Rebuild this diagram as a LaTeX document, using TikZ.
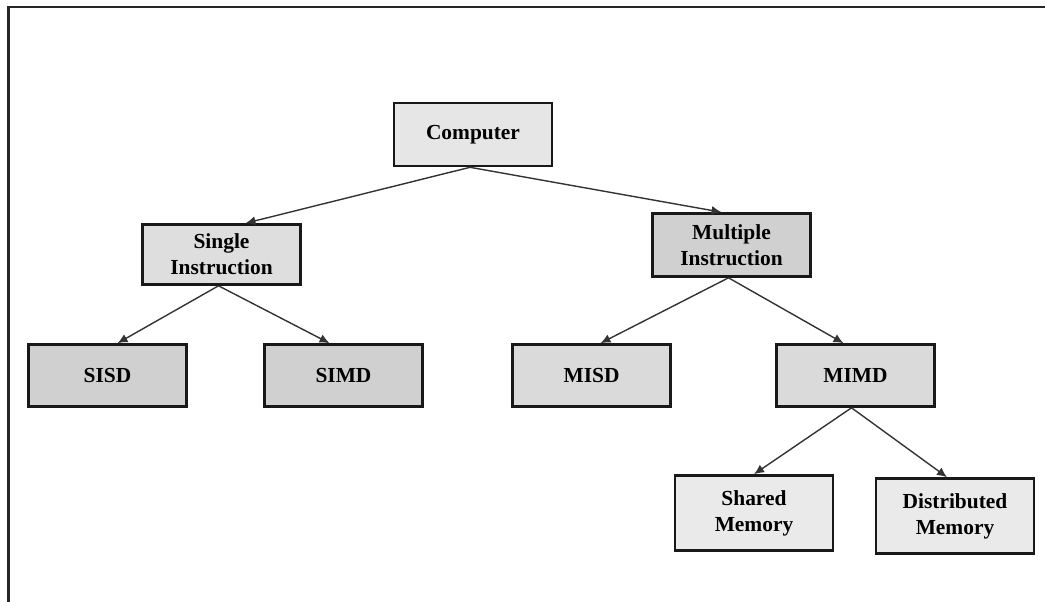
\documentclass[tikz,border=0pt]{standalone}
\usepackage{fontspec}
\setmainfont{Liberation Serif}
\usetikzlibrary{arrows.meta}
\definecolor{fillA}{HTML}{E6E6E6}
\definecolor{fillB}{HTML}{DEDEDE}
\definecolor{fillC}{HTML}{D0D0D0}
\definecolor{fillD}{HTML}{DADADA}
\definecolor{fillE}{HTML}{EAEAEA}
\tikzset{
  box/.style={draw=black!90, line width=2.6bp, inner sep=0pt, align=center,
    minimum width=158bp, font=\fontsize{21.5}{26}\selectfont\bfseries},
  link/.style={draw=black!80, line width=1.4bp, -{Latex[length=10bp,width=9bp]}}
}
\begin{document}
\begin{tikzpicture}[x=1bp,y=-1bp]
  \useasboundingbox (0,0) rectangle (1045,602);
  % open frame: top and left edges
  \draw[line width=2.2bp, black!85] (8.5,602) -- (8.5,7) -- (1045,7);

  % hierarchy boxes
  \node[box, fill=fillA, minimum height=63bp] (comp)   at (473,134.5) {Computer};
  \node[box, fill=fillB, minimum height=60bp] (single) at (221.5,254.5) {Single\\Instruction};
  \node[box, fill=fillC, minimum height=63bp] (multi)  at (731.5,245) {Multiple\\Instruction};
  \node[box, fill=fillC, minimum height=62bp] (sisd)   at (107.5,375.5) {SISD};
  \node[box, fill=fillC, minimum height=62bp] (simd)   at (343.5,375.5) {SIMD};
  \node[box, fill=fillD, minimum height=62bp] (misd)   at (591.5,375.5) {MISD};
  \node[box, fill=fillD, minimum height=62bp] (mimd)   at (855.5,375.5) {MIMD};
  \node[box, fill=fillE, minimum height=75bp] (shared) at (754,513) {Shared\\Memory};
  \node[box, fill=fillE, minimum height=75bp] (distr)  at (955,516) {Distributed\\Memory};

  % connectors
  \draw[link] ([xshift=-3bp]comp.south) -- ([xshift=24bp]single.north);
  \draw[link] ([xshift=-3bp]comp.south) -- ([xshift=-10bp]multi.north);
  \draw[link] ([xshift=-3bp]single.south) -- ([xshift=10bp]sisd.north);
  \draw[link] ([xshift=-3bp]single.south) -- ([xshift=-14bp]simd.north);
  \draw[link] ([xshift=-3bp]multi.south) -- ([xshift=9bp]misd.north);
  \draw[link] ([xshift=-3bp]multi.south) -- ([xshift=-12bp]mimd.north);
  \draw[link] ([xshift=-4bp]mimd.south) -- (shared.north);
  \draw[link] ([xshift=-4bp]mimd.south) -- ([xshift=-8bp]distr.north);
\end{tikzpicture}
\end{document}
